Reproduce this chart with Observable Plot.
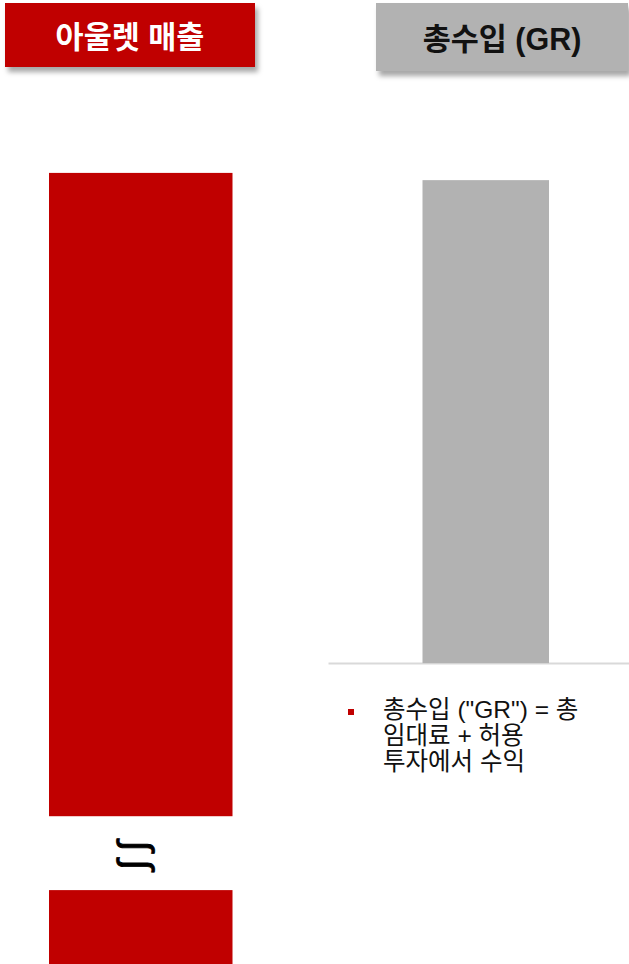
<!DOCTYPE html>
<html>
<head>
<meta charset="utf-8">
<script src="https://cdn.jsdelivr.net/npm/d3@7"></script>
<script src="https://cdn.jsdelivr.net/npm/@observablehq/plot@0.6"></script>
<style>
  html, body { margin: 0; padding: 0; background: #fff; }
  #wrap { position: relative; width: 629px; height: 964px; overflow: hidden;
          font-family: "Liberation Sans", "Noto Sans CJK KR", sans-serif; }
  #chart { position: absolute; left: 0; top: 0; }
  .hdr { position: absolute; display: flex; align-items: center; justify-content: center;
         font-weight: bold; font-size: 30.5px; box-shadow: 3px 5px 5px rgba(0,0,0,0.35); }
  #h1 { left: 5px; top: 3px; width: 250px; height: 64px; background: #C00000; color: #fff; }
  #h2 { left: 376px; top: 3px; width: 252px; height: 68px; background: #B2B2B2; color: #111; }
  #note { position: absolute; left: 383px; top: 697px; font-size: 24.5px; line-height: 26px; color: #111; }
  #bullet { position: absolute; left: 348px; top: 709px; width: 6px; height: 6px; background: #C00000; }
</style>
</head>
<body>
<div id="wrap">
  <div id="chart"></div>
  <div class="hdr" id="h1"></div>
  <div class="hdr" id="h2"></div>
  <div id="bullet"></div>
  <div id="note"></div>
</div>
<script>
// ---- data ----
const categories = ["아울렛 매출", "총수입 (GR)"];
const outletSegments = [[-62.3, -47.0], [-31.7, 101.5]]; // broken bar: lower and upper part
const grBase = 0;
const grValue = 100;
const breakMark = "∫\u2009∫";
const noteLines = ["총수입 (\"GR\") = 총", "임대료 + 허용", "투자에서 수익"];
const yDomain = [-62.3, 137.3];

// ---- tables ----
const outletBars = outletSegments.map(([a, b]) => ({cat: categories[0], y1: a, y2: b}));
const grBars = [{cat: categories[1], y1: grBase, y2: grValue}];
const breakPos = [{cat: categories[0], y: (outletSegments[0][1] + outletSegments[1][0]) / 2, t: breakMark}];
const baseRule = [{cat: categories[1], y: grBase}];

document.getElementById("h1").textContent = categories[0];
document.getElementById("h2").textContent = categories[1];
document.getElementById("note").innerHTML = noteLines.join("<br>");

const chart = Plot.plot({
  width: 629,
  height: 964,
  margin: 0,
  x: {domain: categories, padding: 0, axis: null},
  y: {domain: yDomain, axis: null},
  marks: [
    Plot.ruleY(baseRule, {y: "y", x1: "cat", x2: "cat", stroke: "#D9D9D9", strokeWidth: 2, insetLeft: 13.5}),
    Plot.barY(outletBars, {x: "cat", y1: "y1", y2: "y2", fill: "#C00000", insetLeft: 48, insetRight: 82.5}),
    Plot.barY(grBars, {x: "cat", y1: "y1", y2: "y2", fill: "#B2B2B2", insetLeft: 107.5, insetRight: 80}),
    Plot.text(breakPos, {x: "cat", y: "y", text: "t", rotate: -90, fontSize: 40,
      dx: -25, dy: 2, fill: "#000", fontFamily: "Liberation Sans", stroke: "#000", strokeWidth: 0.8})
  ]
});
document.getElementById("chart").appendChild(chart);
</script>
</body>
</html>
